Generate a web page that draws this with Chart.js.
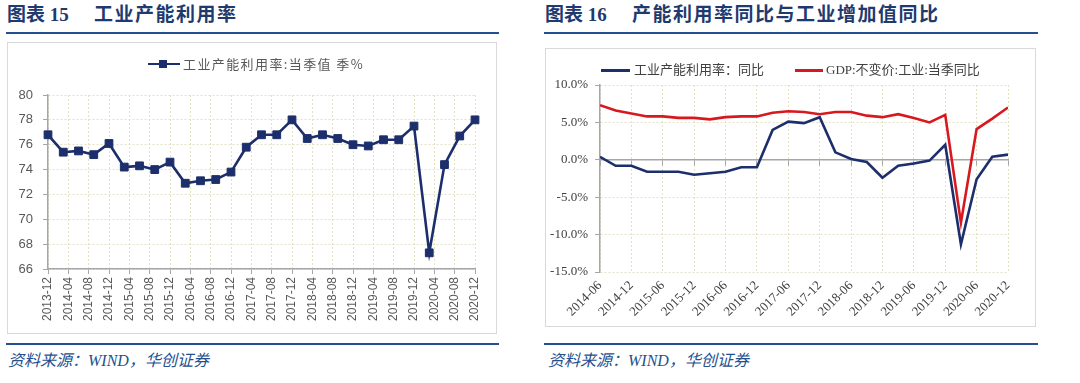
<!DOCTYPE html>
<html><head><meta charset="utf-8">
<script src="https://cdn.jsdelivr.net/npm/chart.js"></script>
<style>
html,body{margin:0;padding:0;background:#fff;width:1080px;height:383px;overflow:hidden;position:relative;}
.title{position:absolute;top:4px;font-family:"Liberation Serif","Noto Sans CJK SC",serif;font-weight:bold;font-size:19px;color:#1f3a6e;white-space:nowrap;line-height:22px;}
.rule{position:absolute;height:2px;background:#24508e;}
.box{position:absolute;border:1px solid #d9d9d9;box-sizing:border-box;}
.cv{position:absolute;}
.src{position:absolute;top:351px;font-family:"Liberation Serif","Noto Sans CJK SC",serif;font-style:italic;font-size:16px;line-height:20px;color:#24508e;white-space:nowrap;}
.lg{position:absolute;white-space:nowrap;font-family:"Liberation Serif","Noto Sans CJK SC",sans-serif;font-size:13px;line-height:16px;}
.sw{position:absolute;}
</style>
</head>
<body>
<!-- Left panel -->
<div class="title" style="left:7px;">图表 15<span style="position:absolute;left:87px;letter-spacing:1.5px;">工业产能利用率</span></div>
<div class="rule" style="left:6px;top:32px;width:493px;"></div>
<div class="box" style="left:7px;top:42px;width:490px;height:292px;"></div>
<div class="cv" style="left:7px;top:42px;width:490px;height:292px;"><canvas id="c1" width="490" height="292"></canvas></div>
<div class="sw" style="left:148px;top:62.75px;width:32px;height:2.5px;background:#1c2e6b;"></div>
<div class="sw" style="left:158.5px;top:60px;width:8px;height:8px;background:#1c2e6b;"></div>
<div class="lg" style="left:183px;top:56px;color:#595959;letter-spacing:1.4px;font-family:'Noto Sans CJK SC',sans-serif;">工业产能利用率:当季值 季%</div>
<div class="rule" style="left:6px;top:343px;width:493px;"></div>
<div class="src" style="left:8px;">资料来源：WIND，华创证券</div>

<!-- Right panel -->
<div class="title" style="left:545px;">图表 16<span style="position:absolute;left:87px;letter-spacing:1.5px;">产能利用率同比与工业增加值同比</span></div>
<div class="rule" style="left:544px;top:32px;width:494px;"></div>
<div class="box" style="left:545px;top:48px;width:491px;height:279px;"></div>
<div class="cv" style="left:545px;top:48px;width:491px;height:279px;"><canvas id="c2" width="491" height="279"></canvas></div>
<div class="sw" style="left:601px;top:69px;width:29px;height:2.5px;background:#1c2e6b;"></div>
<div class="lg" style="left:634px;top:62px;color:#404040;">工业产能利用率：同比</div>
<div class="sw" style="left:795px;top:69px;width:28px;height:2.5px;background:#d7191f;"></div>
<div class="lg" style="left:826px;top:62px;color:#404040;">GDP:不变价:工业:当季同比</div>
<div class="rule" style="left:544px;top:343px;width:494px;"></div>
<div class="src" style="left:548px;">资料来源：WIND，华创证券</div>

<script>
// ---------- Data: 图表15 ----------
const leftQuarters = ['2013-12','2014-03','2014-06','2014-09','2014-12','2015-03','2015-06','2015-09','2015-12',
  '2016-03','2016-06','2016-09','2016-12','2017-03','2017-06','2017-09','2017-12','2018-03','2018-06','2018-09',
  '2018-12','2019-03','2019-06','2019-09','2019-12','2020-03','2020-06','2020-09','2020-12'];
const utilRate = [76.8,75.4,75.5,75.2,76.1,74.2,74.3,74.0,74.6,72.9,73.1,73.2,73.8,75.8,76.8,76.8,78.0,
  76.5,76.8,76.5,76.0,75.9,76.4,76.4,77.5,67.3,74.4,76.7,78.0];
const leftTickLabels = ['2013-12','2014-04','2014-08','2014-12','2015-04','2015-08','2015-12','2016-04','2016-08',
  '2016-12','2017-04','2017-08','2017-12','2018-04','2018-08','2018-12','2019-04','2019-08','2019-12','2020-04',
  '2020-08','2020-12'];
const leftYTicks = [66,68,70,72,74,76,78,80];

// ---------- Data: 图表16 ----------
const rightQuarters = ['2014-06','2014-09','2014-12','2015-03','2015-06','2015-09','2015-12','2016-03','2016-06',
  '2016-09','2016-12','2017-03','2017-06','2017-09','2017-12','2018-03','2018-06','2018-09','2018-12','2019-03',
  '2019-06','2019-09','2019-12','2020-03','2020-06','2020-09','2020-12'];
const utilYoY = [0.4,-0.8,-0.8,-1.6,-1.6,-1.6,-2.0,-1.8,-1.6,-1.0,-1.0,4.0,5.1,4.9,5.7,1.0,0.1,-0.3,-2.4,
  -0.8,-0.5,-0.1,2.0,-11.3,-2.6,0.4,0.7];
const gdpIndYoY = [7.3,6.6,6.2,5.8,5.8,5.6,5.6,5.4,5.7,5.8,5.8,6.3,6.5,6.4,6.1,6.4,6.4,5.9,5.7,
  6.1,5.6,5.0,6.0,-8.4,4.1,5.5,7.0];
const rightTickLabels = ['2014-06','2014-12','2015-06','2015-12','2016-06','2016-12','2017-06','2017-12',
  '2018-06','2018-12','2019-06','2019-12','2020-06','2020-12'];
const rightYTicks = [-15,-10,-5,0,5,10];

const seriesNames = ['工业产能利用率:当季值 季%','工业产能利用率：同比','GDP:不变价:工业:当季同比'];

function monthIndex(label, base) {
  const [y, m] = label.split('-').map(Number);
  const [by, bm] = base.split('-').map(Number);
  return (y - by) * 12 + (m - bm);
}

const NAVY = '#1c2e6b', RED = '#d7191f';
const GRID = '#e4e1c4', AXIS = '#a6a6a6';

// ---------- Chart 1 ----------
const lBase = leftQuarters[0];
new Chart(document.getElementById('c1'), {
  type: 'line',
  data: {
    datasets: [{
      label: seriesNames[0],
      data: leftQuarters.map((q, i) => ({x: monthIndex(q, lBase), y: utilRate[i]})),
      borderColor: NAVY, backgroundColor: NAVY, borderWidth: 2.6,
      pointStyle: 'rect', pointRadius: 5.5, pointBorderWidth: 1,
      pointBackgroundColor: NAVY, pointBorderColor: NAVY, tension: 0, clip: false
    }]
  },
  options: {
    responsive: false, animation: false, events: [],
    layout: {padding: {left: 0, right: 22, top: 53, bottom: 5}},
    plugins: {legend: {display: false}, tooltip: {enabled: false}},
    scales: {
      x: {
        type: 'linear', min: 0, max: monthIndex(leftTickLabels[leftTickLabels.length - 1], lBase),
        afterBuildTicks: s => { s.ticks = leftTickLabels.map(l => ({value: monthIndex(l, lBase)})); },
        ticks: {autoSkip: false, minRotation: 90, maxRotation: 90, padding: 3,
          callback: (v, i) => leftTickLabels[i],
          font: {family: 'Liberation Sans', size: 12}, color: '#595959'},
        grid: {color: GRID, lineWidth: 1, tickColor: AXIS, tickLength: 5},
        border: {color: AXIS, width: 1.5, dash: [2, 2]},
        afterFit: s => { s.height = 60; }
      },
      y: {
        min: 66, max: 80,
        afterBuildTicks: s => { s.ticks = leftYTicks.map(v => ({value: v})); },
        ticks: {padding: 10, font: {family: 'Liberation Sans', size: 13}, color: '#595959'},
        grid: {color: GRID, lineWidth: 1, tickColor: AXIS, tickLength: 5},
        border: {color: AXIS, width: 1.5, dash: [2, 2]},
        afterFit: s => { s.width = 41; }
      }
    }
  }
});

// ---------- Chart 2 ----------
const rBase = rightQuarters[0];
const rMax = monthIndex(rightTickLabels[rightTickLabels.length - 1], rBase);
const rTicks = s => { s.ticks = rightTickLabels.map(l => ({value: monthIndex(l, rBase)})); };
new Chart(document.getElementById('c2'), {
  type: 'line',
  data: {
    datasets: [
      {label: seriesNames[1], data: rightQuarters.map((q, i) => ({x: monthIndex(q, rBase), y: utilYoY[i]})),
       borderColor: NAVY, backgroundColor: NAVY, borderWidth: 2.6, pointRadius: 0, tension: 0},
      {label: seriesNames[2], data: rightQuarters.map((q, i) => ({x: monthIndex(q, rBase), y: gdpIndYoY[i]})),
       borderColor: RED, backgroundColor: RED, borderWidth: 2.6, pointRadius: 0, tension: 0}
    ]
  },
  options: {
    responsive: false, animation: false, events: [],
    layout: {padding: {left: 0, right: 28, top: 37, bottom: 5}},
    plugins: {legend: {display: false}, tooltip: {enabled: false}},
    scales: {
      x: {
        type: 'linear', min: 0, max: rMax,
        afterBuildTicks: rTicks,
        ticks: {autoSkip: false, minRotation: 45, maxRotation: 45, padding: 6,
          callback: (v, i) => rightTickLabels[i],
          font: {family: 'Liberation Serif', size: 13}, color: '#404040'},
        grid: {color: GRID, lineWidth: 1, drawTicks: false},
        border: {display: false, dash: [2, 2]},
        afterFit: s => { s.height = 50; }
      },
      x2: {
        type: 'linear', axis: 'x', min: 0, max: rMax, position: {y: 0},
        afterBuildTicks: rTicks,
        ticks: {display: false},
        grid: {drawOnChartArea: false, tickColor: AXIS, tickLength: 5},
        border: {color: AXIS, width: 1.5}
      },
      y: {
        min: -15, max: 10,
        afterBuildTicks: s => { s.ticks = rightYTicks.map(v => ({value: v})); },
        ticks: {padding: 7, font: {family: 'Liberation Serif', size: 13}, color: '#404040',
          callback: v => v.toFixed(1) + '%'},
        grid: {color: GRID, lineWidth: 1, tickColor: AXIS, tickLength: 5},
        border: {color: AXIS, width: 1.5, dash: [2, 2]},
        afterFit: s => { s.width = 55; }
      }
    }
  }
});
</script>
</body></html>
